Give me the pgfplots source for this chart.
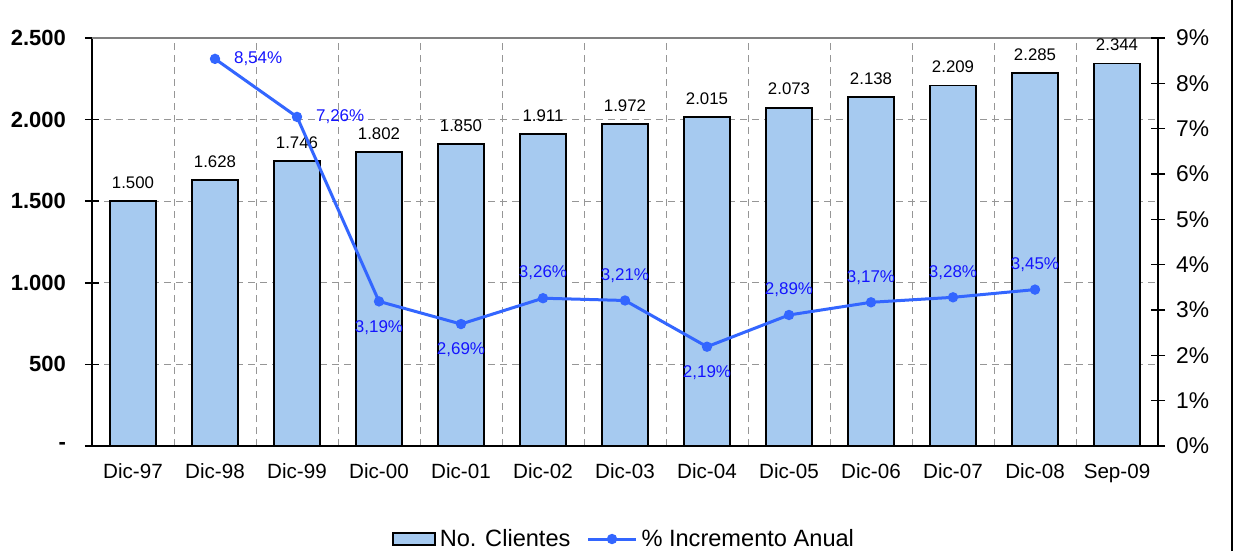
\documentclass[border=0pt]{standalone}
\usepackage{fontspec}
\setmainfont{Liberation Sans}
\usepackage{pgfplots}
\usepackage{pgfplotstable}
\pgfplotsset{compat=1.18}

\definecolor{barblue}{RGB}{166,202,240}
\definecolor{lineblue}{RGB}{51,102,255}
\definecolor{labblue}{RGB}{20,20,255}
\definecolor{gridgray}{RGB}{150,150,150}
\definecolor{topgray}{RGB}{128,128,128}

% clientes (miles)
\pgfplotstableread{
x y
0 1500
1 1628
2 1746
3 1802
4 1850
5 1911
6 1972
7 2015
8 2073
9 2138
10 2209
11 2285
12 2344
}\clientes

% incremento anual (%)
\pgfplotstableread{
x y
1 8.54
2 7.26
3 3.19
4 2.69
5 3.26
6 3.21
7 2.19
8 2.89
9 3.17
10 3.28
11 3.45
}\incremento

\pgfplotsset{
    pctlabel/.style={only marks, mark=none, forget plot, point meta=y,
        nodes near coords={\pgfmathprintnumber[fixed,fixed zerofill,precision=2,use comma]{\pgfplotspointmeta}\%},
        every node near coord/.append style={font=\fontsize{8.5}{10}\selectfont, text=labblue, #1}},
    linelegend/.style={legend image code/.code={%
        \draw[mark repeat=2,mark phase=2,##1] plot coordinates {(0pt,0pt) (12pt,0pt) (24pt,0pt)};}},
}

\begin{document}
\begin{tikzpicture}
\useasboundingbox (-46pt,-52.5pt) rectangle (571.5pt,223pt);
\begin{axis}[
    scale only axis,
    width=533pt, height=204pt,
    xmin=-0.5, xmax=12.5,
    ymin=0, ymax=2500,
    axis x line*=bottom,
    axis y line*=left,
    axis line style={line width=0.75pt, black},
    xtick={0,...,12},
    xticklabels={Dic-97,Dic-98,Dic-99,Dic-00,Dic-01,Dic-02,Dic-03,Dic-04,Dic-05,Dic-06,Dic-07,Dic-08,Sep-09},
    xtick style={draw=none},
    minor xtick={-0.5,0.5,...,12.5},
    xminorgrids,
    minor tick length=3pt,
    minor tick style={yshift=-1.5pt, black, line width=0.75pt},
    minor grid style={gridgray, dash pattern=on 3.5pt off 2.5pt, line width=0.5pt},
    ytick={0,500,...,2500},
    yticklabels={-\hspace{12pt},500,1.000,1.500,2.000,2.500},
    ymajorgrids,
    major grid style={gridgray, dash pattern=on 3.5pt off 2.5pt, line width=0.5pt},
    tick align=center,
    major tick length=7pt,
    ytick style={black, line width=0.75pt},
    yticklabel style={font=\fontsize{11}{13}\selectfont\bfseries, xshift=-6pt},
    xticklabel style={font=\fontsize{10.3}{12}\selectfont, yshift=-2pt},
    /pgf/number format/assume math mode=true,
    nodes near coords={\pgfmathprintnumber[fixed,precision=0,1000 sep={.}]{\pgfplotspointmeta}},
    every node near coord/.append style={font=\fontsize{8.4}{10}\selectfont, yshift=2.5pt},
]
\addplot[ybar, bar width=0.56, fill=barblue, draw=black, line width=0.9pt, point meta=y] table[x=x,y=y] {\clientes};
\draw[topgray, line width=0.75pt] (rel axis cs:0,1) -- (rel axis cs:1,1);
\end{axis}

\begin{axis}[
    scale only axis,
    width=533pt, height=204pt,
    xmin=-0.5, xmax=12.5,
    ymin=0, ymax=9,
    hide x axis,
    axis y line*=right,
    axis line style={line width=0.75pt, black},
    ytick={0,...,9},
    yticklabels={0\%,1\%,2\%,3\%,4\%,5\%,6\%,7\%,8\%,9\%},
    tick align=center,
    major tick length=7pt,
    ytick style={black, line width=0.75pt},
    yticklabel style={font=\fontsize{11.4}{13}\selectfont, xshift=2pt},
    /pgf/number format/assume math mode=true,
    legend style={at={(0.5,-0.228)}, anchor=center, draw=none, fill=none,
        legend columns=2, font=\fontsize{11.8}{13}\selectfont,
        /tikz/every even column/.append style={column sep=6pt}},
]
\addlegendimage{legend image code/.code={\draw[fill=barblue,draw=black,line width=0.9pt] (0pt,-3pt) rectangle (21pt,3pt);}}
\addlegendentry{No. Clientes}
\addplot[lineblue, line width=1.5pt, mark=*, mark size=1.8pt, linelegend] table[x=x,y=y] {\incremento};
\addlegendentry{\% Incremento Anual}
% data labels
\addplot[pctlabel={anchor=west, xshift=6pt}] coordinates {(1,8.54) (2,7.26)};
\addplot[pctlabel={anchor=north, yshift=-6pt}] coordinates {(3,3.19) (4,2.69) (7,2.19)};
\addplot[pctlabel={anchor=south, yshift=5.5pt}] coordinates {(5,3.26) (6,3.21) (8,2.89) (9,3.17) (10,3.28) (11,3.45)};
\end{axis}
\draw[black, line width=0.6pt] (570pt,-52.5pt) -- (570pt,223pt);
\end{tikzpicture}
\end{document}
